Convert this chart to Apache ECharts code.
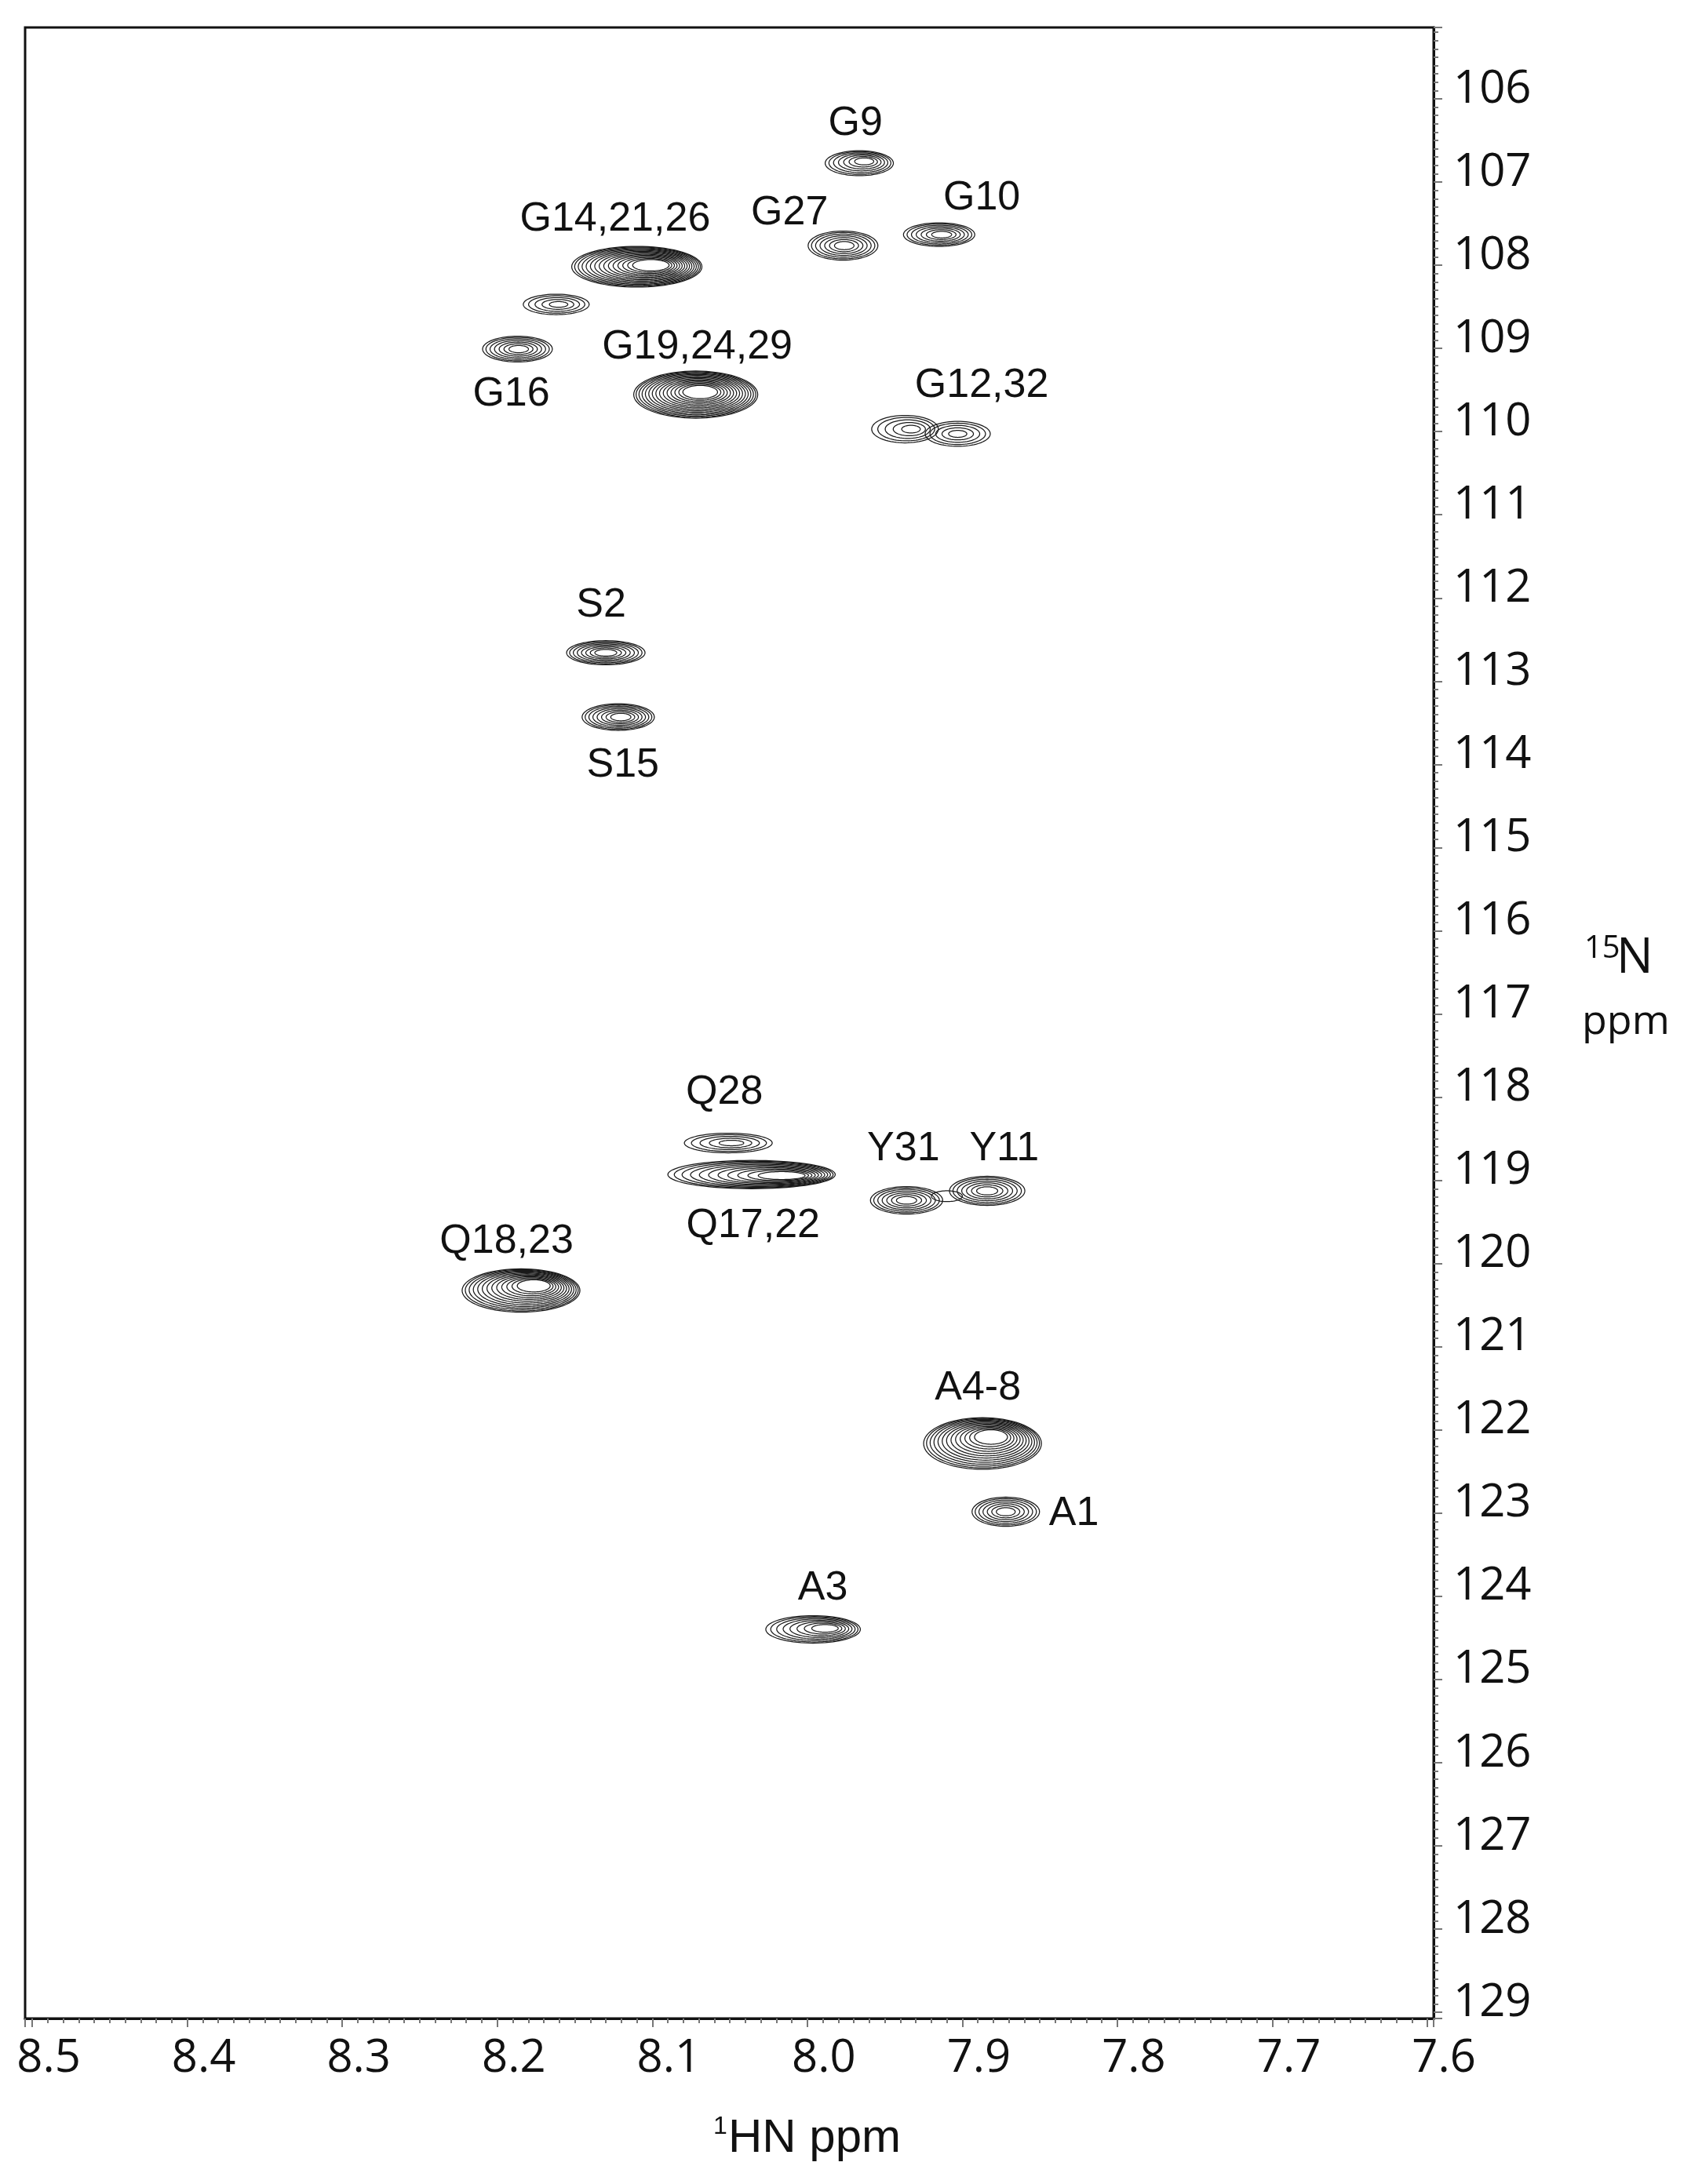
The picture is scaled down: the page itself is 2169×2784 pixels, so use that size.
<!DOCTYPE html>
<html>
<head>
<meta charset="utf-8">
<title>1H-15N HSQC</title>
<script src="https://cdn.jsdelivr.net/npm/echarts@6/dist/echarts.min.js"></script>
<style>
  html, body { margin: 0; padding: 0; background: #fff; }
  #chart { width: 2169px; height: 2784px; }
</style>
</head>
<body>
<div id="chart"></div>
<script>
// cross peaks: 1H shift, 15N shift (ppm), linewidths (ppm), contour count, skew of inner contours
const peakH      = [7.9665, 7.915, 7.977, 8.110, 8.162, 8.187, 8.072, 7.937, 7.903, 8.130, 8.122, 8.051, 8.036, 7.936, 7.910, 7.884, 8.1847, 7.887, 7.872, 7.9963];
const peakN      = [106.774, 107.632, 107.764, 108.018, 108.471, 109.008, 109.555, 109.970, 110.027, 112.658, 113.431, 118.551, 118.93, 119.240, 119.19, 119.126, 120.324, 122.163, 122.983, 124.397];
const peakWidthH = [0.044, 0.046, 0.045, 0.084, 0.0425, 0.045, 0.080, 0.043, 0.042, 0.0506, 0.0466, 0.0567, 0.108, 0.0466, 0.02, 0.0486, 0.076, 0.076, 0.0435, 0.061];
const peakWidthN = [0.30, 0.283, 0.35, 0.49, 0.245, 0.31, 0.566, 0.33, 0.30, 0.29, 0.32, 0.236, 0.34, 0.33, 0.13, 0.35, 0.52, 0.62, 0.35, 0.33];
const peakLevels = [7, 7, 7, 15, 5, 7, 15, 5, 5, 8, 8, 5, 11, 7, 1, 7, 13, 13, 7, 8];
const peakSkewH  = [0.2, 0.1, 0.05, 0.3, 0.1, 0.05, 0.1, 0.25, 0, 0, 0.1, 0.1, 0.5, 0, 0, 0, 0.3, 0.2, 0, 0.35];
const peakSkewN  = [-0.2, 0, 0, -0.1, 0, 0, -0.15, 0, 0, 0, 0, 0, 0.1, 0, 0, 0, -0.3, -0.35, 0, -0.1];

// assignment labels
const labelText = ['G9', 'G10', 'G27', 'G14,21,26', 'G19,24,29', 'G16', 'G12,32', 'S2', 'S15', 'Q28', 'Q17,22', 'Y31', 'Y11', 'Q18,23', 'A4-8', 'A1', 'A3'];
const labelH    = [7.969, 7.8875, 8.0115, 8.124, 8.071, 8.191, 7.8875, 8.133, 8.119, 8.0535, 8.035, 7.938, 7.873, 8.194, 7.890, 7.828, 7.990];
const labelN    = [106.302, 107.198, 107.377, 107.453, 108.99, 109.555, 109.452, 112.092, 114.016, 117.948, 119.551, 118.627, 118.627, 119.739, 121.503, 123.011, 123.907];

// axis ranges (ppm)
const hRange = [7.596, 8.5046];
const nRange = [105.142, 129.074];

const INNER = 0.28; // radius of the innermost contour relative to the outer one

const chart = echarts.init(document.getElementById('chart'));

const peakData = peakH.map((h, i) => [h, peakN[i], peakWidthH[i], peakWidthN[i], peakLevels[i], peakSkewH[i], peakSkewN[i]]);
const labelData = labelH.map((h, i) => [h, labelN[i]]);

function renderPeak(params, api) {
  const c = api.coord([api.value(0), api.value(1)]);
  const sz = api.size([api.value(2), api.value(3)]);
  const rx = sz[0] / 2, ry = sz[1] / 2;
  const n = api.value(4);
  const skx = api.value(5), sky = api.value(6);
  const children = [];
  for (let k = 0; k < n; k++) {
    // outer contours a little closer together than inner ones
    const f = n > 1 ? Math.pow(k / (n - 1), 1.15) : 0;
    const rho = 1 - (1 - INNER) * f;
    const cx = c[0] + skx * (1 - rho) * rx;
    const cy = c[1] + sky * (1 - rho) * ry;
    const pts = [];
    for (let i = 0; i < 72; i++) {
      const t = i / 72 * Math.PI * 2;
      pts.push([cx + rho * rx * Math.cos(t), cy + rho * ry * Math.sin(t)]);
    }
    children.push({
      type: 'polygon',
      shape: { points: pts },
      style: { fill: 'none', stroke: '#1a1a1a', lineWidth: 1.25 }
    });
  }
  return { type: 'group', children: children };
}

function renderLabel(params, api) {
  const p = api.coord([api.value(0), api.value(1)]);
  return {
    type: 'text',
    x: p[0],
    y: p[1],
    style: {
      text: labelText[params.dataIndex],
      align: 'center',
      verticalAlign: 'middle',
      fontSize: 52,
      fontFamily: '"Liberation Sans", Arial, sans-serif',
      fill: '#111'
    }
  };
}

const tickStyle = { color: '#777', width: 2 };

chart.setOption({
  animation: false,
  backgroundColor: '#fff',
  grid: {
    left: 32, top: 35, width: 1795, height: 2538,
    show: true, borderColor: '#111', borderWidth: 3, backgroundColor: 'transparent'
  },
  xAxis: {
    type: 'value',
    inverse: true,
    min: hRange[0],
    max: hRange[1],
    splitNumber: 9,
    axisLine: { show: true, onZero: false, lineStyle: { color: '#111', width: 3 } },
    axisTick: { show: true, length: 11, lineStyle: tickStyle },
    minorTick: { show: true, splitNumber: 10, length: 6, lineStyle: tickStyle },
    splitLine: { show: false },
    axisLabel: {
      showMinLabel: false, showMaxLabel: false,
      margin: 22,
      padding: [0, 0, 0, 42],
      fontSize: 58,
      fontFamily: '"Open Sans", "Noto Sans", sans-serif',
      color: '#111',
      formatter: v => v.toFixed(1)
    }
  },
  yAxis: {
    type: 'value',
    inverse: true,
    position: 'right',
    min: nRange[0],
    max: nRange[1],
    splitNumber: 24,
    axisLine: { show: true, onZero: false, lineStyle: { color: '#111', width: 3 } },
    axisTick: { show: true, length: 11, lineStyle: tickStyle },
    minorTick: { show: true, splitNumber: 10, length: 6, lineStyle: tickStyle },
    splitLine: { show: false },
    axisLabel: {
      showMinLabel: false, showMaxLabel: false,
      margin: 25,
      verticalAlign: 'bottom',
      lineHeight: 24,
      fontSize: 58,
      fontFamily: '"Open Sans", "Noto Sans", sans-serif',
      color: '#111',
      formatter: v => String(Math.round(v))
    }
  },
  graphic: [
    { type: 'text', x: 909, y: 2711, style: { text: '1', fontSize: 32, fontFamily: '"Liberation Sans", Arial, sans-serif', fill: '#111', align: 'left', verticalAlign: 'middle' } },
    { type: 'text', x: 928, y: 2726, style: { text: 'HN ppm', fontSize: 60, fontFamily: '"Liberation Sans", Arial, sans-serif', fill: '#111', align: 'left', verticalAlign: 'middle' } },
    { type: 'text', x: 2019, y: 1210, style: { text: '15', fontSize: 40, fontFamily: '"Open Sans", sans-serif', fill: '#111', align: 'left', verticalAlign: 'middle' } },
    { type: 'text', x: 2060, y: 1222, style: { text: 'N', fontSize: 62, fontFamily: '"Open Sans", sans-serif', fill: '#111', align: 'left', verticalAlign: 'middle' } },
    { type: 'text', x: 2016, y: 1303, style: { text: 'ppm', fontSize: 52, fontFamily: '"Open Sans", sans-serif', fill: '#111', align: 'left', verticalAlign: 'middle' } }
  ],
  series: [
    {
      name: 'contours',
      type: 'custom',
      renderItem: renderPeak,
      encode: { x: 0, y: 1 },
      data: peakData,
      clip: true,
      silent: true
    },
    {
      name: 'assignments',
      type: 'custom',
      renderItem: renderLabel,
      encode: { x: 0, y: 1 },
      data: labelData,
      silent: true
    }
  ]
});
</script>
</body>
</html>
